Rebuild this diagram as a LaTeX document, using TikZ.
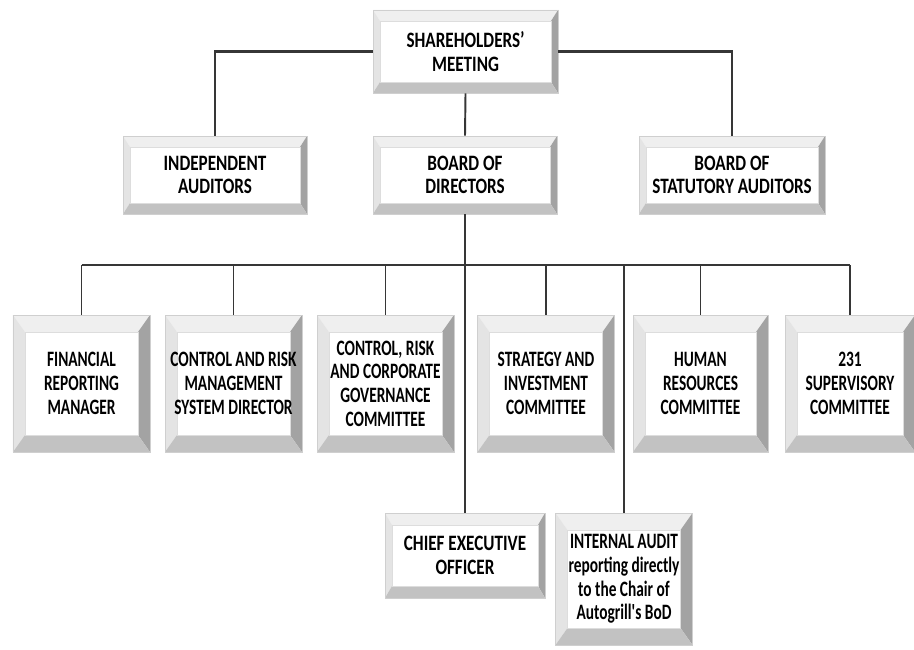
\documentclass[tikz,border=0pt]{standalone}
\usepackage{fontspec}
\setmainfont{Carlito}[FakeStretch=0.78]
\newfontfamily\condfont{Carlito}[FakeStretch=0.7]
\definecolor{bvtop}{HTML}{EFEFEF}
\definecolor{bvleft}{HTML}{E4E4E4}
\definecolor{bvright}{HTML}{A3A3A3}
\definecolor{bvbot}{HTML}{C2C2C2}
\definecolor{bvedge}{HTML}{CFCFCF}
\definecolor{bvface}{HTML}{DDDDDD}
\definecolor{orgline}{HTML}{363636}

\begin{document}
\begin{tikzpicture}[x=0.2mm,y=-0.2mm,
  box/.style={fill=white,draw=bvedge,line width=0.4pt,inner sep=0pt,align=center,
    font=\fontsize{12.5}{13.5}\selectfont\bfseries,text=black},
  bevel/.style 2 args={path picture={
    \path (path picture bounding box.north east) coordinate (bne)
          (path picture bounding box.south west) coordinate (bsw);
    \coordinate (bnw) at (bsw|-bne);
    \coordinate (bse) at (bne|-bsw);
    \coordinate (inw) at ([shift={(#1,-#2)}]bnw);
    \coordinate (ine) at ([shift={(-#1,-#2)}]bne);
    \coordinate (isw) at ([shift={(#1,#2)}]bsw);
    \coordinate (ise) at ([shift={(-#1,#2)}]bse);
    \fill[bvtop] (bnw) -- (bne) -- (ine) -- (inw) -- cycle;
    \fill[bvleft] (bnw) -- (inw) -- (isw) -- (bsw) -- cycle;
    \fill[bvright] (bne) -- (bse) -- (ise) -- (ine) -- cycle;
    \fill[bvbot] (bsw) -- (isw) -- (ise) -- (bse) -- cycle;
    \draw[bvface,line width=0.4pt] (inw) rectangle (ise);}},
  flat/.style={box,bevel={1.4mm}{2.2mm},minimum width=36.8mm,minimum height=15.6mm},
  tall/.style={box,bevel={2.4mm}{3.4mm},minimum width=27.4mm,minimum height=27.4mm,
    font=\fontsize{12.5}{13.5}\condfont\bfseries},
  link/.style={draw=orgline,line width=1.1pt},
  bus/.style={draw=orgline,line width=1.6pt}]
  \useasboundingbox (0,0) rectangle (914,649);
  % governing bodies
  \node[box,bevel={1.4mm}{2.2mm},minimum width=37mm,minimum height=16.6mm] (share) at (465.5,51.5) {SHAREHOLDERS'\\MEETING};
  \node[flat] (indep) at (215,175) {INDEPENDENT\\AUDITORS};
  \node[flat] (bod) at (465,175) {BOARD OF\\DIRECTORS};
  \node[flat,minimum width=37.2mm] (stat) at (732,175) {BOARD OF\\STATUTORY AUDITORS};
  % committees and managers
  \node[tall] (frm) at (81.5,383.5) {FINANCIAL\\REPORTING\\MANAGER};
  \node[tall] (crm) at (233.5,383.5) {CONTROL AND RISK\\MANAGEMENT\\SYSTEM DIRECTOR};
  \node[tall] (crc) at (385.5,383.5) {CONTROL, RISK\\AND CORPORATE\\GOVERNANCE\\COMMITTEE};
  \node[tall] (sic) at (546,383.5) {STRATEGY AND\\INVESTMENT\\COMMITTEE};
  \node[tall,minimum width=27mm] (hrc) at (700.5,383.5) {HUMAN\\RESOURCES\\COMMITTEE};
  \node[tall,minimum width=26mm] (sup) at (850,383.5) {231\\SUPERVISORY\\COMMITTEE};
  % executive level
  \node[box,bevel={1.4mm}{2.4mm},minimum width=32mm,minimum height=17mm] (ceo) at (465,555.5) {CHIEF EXECUTIVE\\OFFICER};
  \node[tall,minimum height=26.4mm] (ia) at (624,579) {INTERNAL AUDIT\\reporting directly\\to the Chair of\\Autogrill's BoD};
  % connectors
  \coordinate (busmid) at (465,265);
  \draw[link,line width=1.4pt] (share.west) -| (indep.north);
  \draw[link,line width=1.4pt] (share.east) -| (stat.north);
  \draw[link] (share.south) -- (bod.north);
  \draw[link] (bod.south) -- (ceo.north);
  \draw[bus] (frm.north |- busmid) -- (sup.north |- busmid);
  \foreach \c in {frm,crm,crc,sic,hrc,sup,ia}
    \draw[link] (\c.north |- busmid) -- (\c.north);
\end{tikzpicture}
\end{document}
